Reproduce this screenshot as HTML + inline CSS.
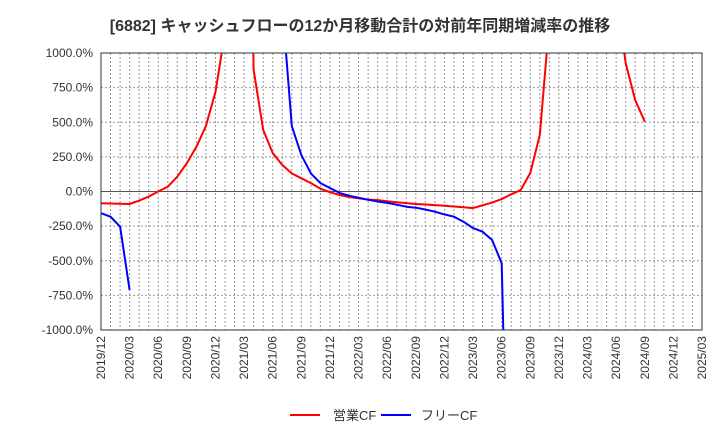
<!DOCTYPE html>
<html><head><meta charset="utf-8">
<style>
html,body{margin:0;padding:0;background:#fff;width:720px;height:440px;overflow:hidden;}
svg{display:block;font-family:"Liberation Sans","Noto Sans CJK JP",sans-serif;}
</style></head>
<body>
<svg id="chart" width="720" height="440" viewBox="0 0 720 440">
<text x="360" y="31" text-anchor="middle" font-size="16" font-weight="bold" fill="#333">[6882]  キャッシュフローの12か月移動合計の対前年同期増減率の推移</text>
<g id="grid"></g><g id="series"></g><g id="axes"></g>
<g>
<line x1="290" y1="415" x2="320" y2="415" stroke="#f00" stroke-width="2"/>
<text x="333" y="420" font-size="13" fill="#333">営業CF</text>
<line x1="381" y1="415" x2="411" y2="415" stroke="#00f" stroke-width="2"/>
<text x="421" y="420" font-size="13" fill="#333">フリーCF</text>
</g>
</svg>
<script>
const xTickLabels=["2019/12","2020/03","2020/06","2020/09","2020/12","2021/03","2021/06","2021/09","2021/12","2022/03","2022/06","2022/09","2022/12","2023/03","2023/06","2023/09","2023/12","2024/03","2024/06","2024/09","2024/12","2025/03"];
const yTicks=[1000,750,500,250,0,-250,-500,-750,-1000];
const operatingCF=[-85,-87,-88,-90,-66,-37,0,35,107,205,323,473,720,1150,null,5000,880,445,278,191,131,95,61,20,-5,-25,-40,-50,-58,-62,-70,-77,-84,-90,-94,-98,-103,-108,-113,-120,-100,-80,-55,-20,10,134,408,1230,null,null,null,null,null,null,1430,926,660,504];
const freeCF=[-157,-182,-254,-711,null,null,null,null,null,null,null,null,null,null,null,null,null,null,null,1340,473,264,131,61,25,-10,-30,-45,-60,-72,-82,-95,-110,-117,-130,-146,-165,-182,-218,-264,-290,-350,-518,-3400];
const X0=101,X1=702,Y0=53,Y1=330,months=63;
const xs=m=>X0+m*(X1-X0)/months;
const ys=v=>Y0+(1000-v)*(Y1-Y0)/2000;
const NS="http://www.w3.org/2000/svg";
function mk(t,a,p){const e=document.createElementNS(NS,t);for(const k in a)e.setAttribute(k,a[k]);p.appendChild(e);return e;}
const grid=document.getElementById('grid'),axes=document.getElementById('axes'),ser=document.getElementById('series');
for(let m=1;m<months;m++){
  const l=mk('line',{x1:xs(m),x2:xs(m),y1:Y0,y2:Y1,stroke:'#999','stroke-width':1,'stroke-dasharray':'2,2'},grid);
  
  
}
yTicks.forEach(v=>{
  const l=mk('line',{x1:X0,x2:X1,y1:ys(v),y2:ys(v),stroke:v===0?'#555':'#999','stroke-width':1,'stroke-dasharray':v===0?'none':'2,2'},grid);
  
  
  const t=mk('text',{x:93,y:ys(v)+4,'text-anchor':'end','font-size':12,fill:'#333'},axes);
  t.textContent=v.toFixed(1)+'%';
  
  
});
xTickLabels.forEach((s,i)=>{
  const x=xs(i*3);
  const t=mk('text',{x:0,y:0,'text-anchor':'end','font-size':12,fill:'#333',transform:`translate(${x+4},336) rotate(-90)`},axes);
  t.textContent=s;
  
  
});
const fr=mk('rect',{x:X0,y:Y0,width:X1-X0,height:Y1-Y0,fill:'none',stroke:'#333','stroke-width':1},axes);


mk('clipPath',{id:'clip'},ser).appendChild(document.createElementNS(NS,'rect'));
const cr=ser.querySelector('clipPath rect');cr.setAttribute('x',X0);cr.setAttribute('y',Y0);cr.setAttribute('width',X1-X0);cr.setAttribute('height',Y1-Y0);
function draw(data,color,name){
  let d='',pen=false;
  data.forEach((v,m)=>{if(v===null){pen=false;return;}d+=(pen?'L':'M')+xs(m).toFixed(1)+','+ys(v).toFixed(1);pen=true;});
  const p=mk('path',{d:d,fill:'none',stroke:color,'stroke-width':2,'clip-path':'url(#clip)','stroke-linejoin':'round'},ser);
  
  
}
draw(operatingCF,'#f00','operating-cf-line');
draw(freeCF,'#00f','free-cf-line');
</script>
</body></html>
